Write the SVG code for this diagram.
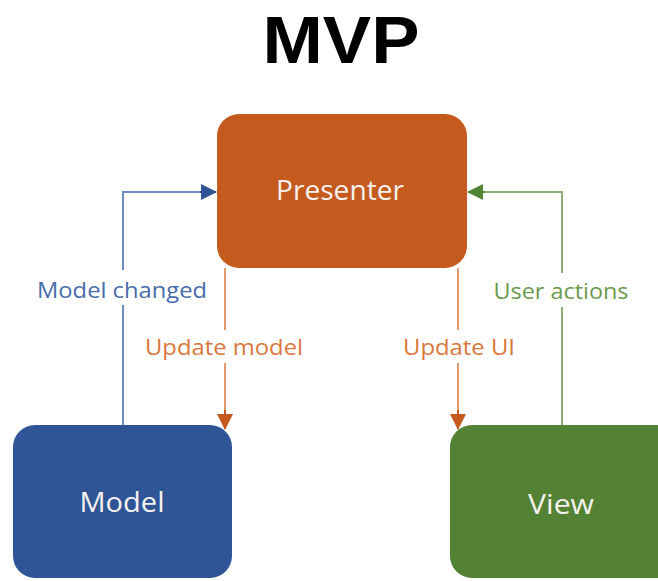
<svg xmlns="http://www.w3.org/2000/svg" width="658" height="581" viewBox="0 0 658 581">
<style>
.node text{font-family:"Open Sans","Liberation Sans",sans-serif;fill:#f4f1ee;text-anchor:middle;font-size:27px}
.lbl{font-family:"Open Sans","Liberation Sans",sans-serif;font-size:22px;text-anchor:middle}
.c{fill:none;stroke-width:2}
</style>
<defs>
<marker id="ab" markerWidth="16" markerHeight="16" refX="15" refY="8" orient="auto" markerUnits="userSpaceOnUse"><path d="M0,0 L16,8 L0,16 Z" fill="#2F5597"/></marker>
<marker id="ag" markerWidth="16" markerHeight="16" refX="15" refY="8" orient="auto" markerUnits="userSpaceOnUse"><path d="M0,0 L16,8 L0,16 Z" fill="#548235"/></marker>
<marker id="ao" markerWidth="16" markerHeight="16" refX="15" refY="8" orient="auto" markerUnits="userSpaceOnUse"><path d="M0,0 L16,8 L0,16 Z" fill="#C55A1E"/></marker>
</defs>
<text x="341" y="63" font-family="Liberation Sans, Arial, sans-serif" font-weight="bold" font-size="66" text-anchor="middle" textLength="157" lengthAdjust="spacingAndGlyphs" fill="#000">MVP</text>
<g id="connectors">
<path class="c" stroke="#6E8CC4" d="M123,270 V192 H200"/>
<path class="c" stroke="#6E8CC4" d="M123,305 V425"/>
<path class="c" stroke="#2F5597" d="M200,192 H216" marker-end="url(#ab)"/>
<path class="c" stroke="#8AAE74" d="M562,273 V192 H485"/>
<path class="c" stroke="#8AAE74" d="M562,307 V425"/>
<path class="c" stroke="#548235" d="M485,192 H468" marker-end="url(#ag)"/>
<path class="c" stroke="#E09A6E" d="M225,268 V330"/>
<path class="c" stroke="#E09A6E" d="M225,363 V412"/>
<path class="c" stroke="#C55A1E" d="M225,410 V429" marker-end="url(#ao)"/>
<path class="c" stroke="#E09A6E" d="M458,268 V330"/>
<path class="c" stroke="#E09A6E" d="M458,363 V412"/>
<path class="c" stroke="#C55A1E" d="M458,410 V429" marker-end="url(#ao)"/>
<text class="lbl" x="122" y="298" fill="#4A6BAA" textLength="170" lengthAdjust="spacingAndGlyphs">Model changed</text>
<text class="lbl" x="561" y="299" fill="#6A9A4E" textLength="135" lengthAdjust="spacingAndGlyphs">User actions</text>
<text class="lbl" x="224" y="355" fill="#D9773C" textLength="158" lengthAdjust="spacingAndGlyphs">Update model</text>
<text class="lbl" x="459" y="355" fill="#D9773C" textLength="112" lengthAdjust="spacingAndGlyphs">Update UI</text>
</g>
<g id="presenter" class="node">
<rect x="217" y="114" width="250" height="154" rx="22" fill="#C55A1E"/>
<text x="340" y="200" textLength="128" lengthAdjust="spacingAndGlyphs">Presenter</text>
</g>
<g id="model" class="node">
<rect x="13" y="425" width="219" height="153" rx="22" fill="#2F5597"/>
<text x="122" y="512" textLength="85" lengthAdjust="spacingAndGlyphs">Model</text>
</g>
<g id="view" class="node">
<rect x="450" y="425" width="230" height="153" rx="22" fill="#548235"/>
<text x="561" y="514" textLength="66" lengthAdjust="spacingAndGlyphs">View</text>
</g>
</svg>
